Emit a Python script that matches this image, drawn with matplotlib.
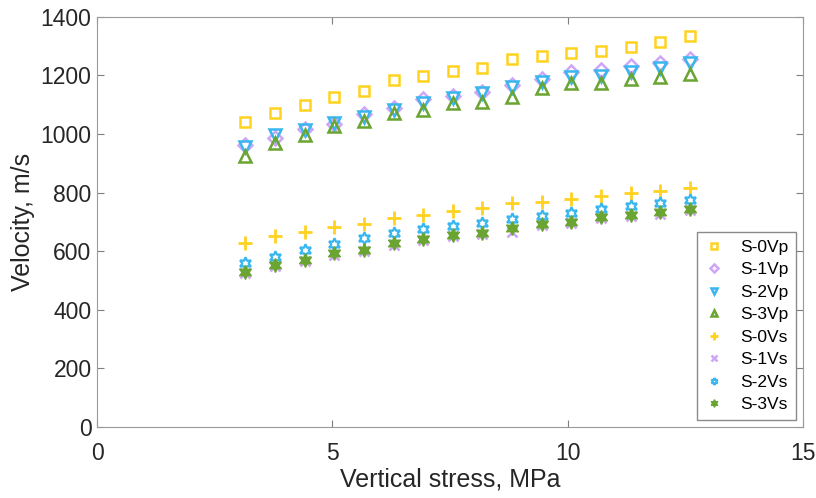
import matplotlib
matplotlib.use('Agg')
import matplotlib.pyplot as plt

plt.rcParams['font.family'] = ['Liberation Sans', 'DejaVu Sans']

# vertical stress, MPa
stress = [3.15, 3.78, 4.41, 5.04, 5.67, 6.30, 6.93, 7.56, 8.19, 8.82, 9.45, 10.08, 10.71, 11.34, 11.97, 12.60]

# P-wave velocities, m/s
vp0 = [1040, 1071, 1100, 1126, 1147, 1183, 1199, 1216, 1227, 1255, 1265, 1278, 1285, 1299, 1314, 1336]
vp1 = [963, 985, 1018, 1035, 1068, 1090, 1120, 1130, 1145, 1168, 1188, 1212, 1218, 1232, 1242, 1255]
vp2 = [957, 997, 1014, 1037, 1057, 1082, 1105, 1122, 1141, 1160, 1179, 1194, 1199, 1213, 1224, 1244]
vp3 = [925, 971, 997, 1028, 1043, 1071, 1082, 1105, 1111, 1128, 1156, 1173, 1173, 1187, 1194, 1205]

# S-wave velocities, m/s
vs0 = [629, 650, 667, 682, 693, 713, 724, 738, 747, 764, 769, 778, 789, 798, 806, 817]
vs1 = [527, 548, 567, 588, 600, 622, 637, 650, 660, 665, 688, 697, 712, 720, 728, 740]
vs2 = [559, 581, 604, 624, 644, 661, 675, 686, 697, 709, 721, 730, 743, 755, 764, 773]
vs3 = [530, 553, 570, 593, 604, 627, 641, 656, 663, 678, 693, 701, 716, 724, 733, 743]

labels = ['S-0Vp', 'S-1Vp', 'S-2Vp', 'S-3Vp', 'S-0Vs', 'S-1Vs', 'S-2Vs', 'S-3Vs']

yel = '#FFD21F'
pur = '#CFA6F7'
blu = '#38B6EF'
grn = '#6AA431'

fig = plt.figure(figsize=(8.16, 4.98), dpi=100)
ax = fig.add_axes([0.119, 0.143, 0.865, 0.823])

ms = 7
star = (6, 1, 0)
ax.plot(stress, vp0, 's', ms=ms, mfc='none', mec=yel, mew=1.8, label=labels[0])
ax.plot(stress, vp1, 'D', ms=ms, mfc='none', mec=pur, mew=1.8, label=labels[1])
ax.plot(stress, vp2, 'v', ms=ms + 1, mfc='none', mec=blu, mew=1.8, label=labels[2])
ax.plot(stress, vp3, '^', ms=ms + 1, mfc='none', mec=grn, mew=1.8, label=labels[3])
ax.plot(stress, vs0, '+', ms=ms + 3, mec=yel, mew=2.0, label=labels[4])
ax.plot(stress, vs1, 'x', ms=ms, mec=pur, mew=1.8, label=labels[5])
ax.plot(stress, vs2, marker=star, ls='none', ms=ms + 2, mfc='white', mec=blu, mew=1.6, label=labels[6])
ax.plot(stress, vs3, marker=star, ls='none', ms=ms + 3, mfc=grn, mec=grn, mew=1.0, label=labels[7])

ax.set_xlim(0, 15)
ax.set_ylim(0, 1400)
ax.set_xticks([0, 5, 10, 15])
ax.set_yticks(range(0, 1401, 200))
ax.tick_params(direction='in', top=True, right=True, labelsize=16.5,
               colors='#7f7f7f', labelcolor='#262626', length=5)
ax.tick_params(axis='x', pad=11)
ax.tick_params(axis='y', pad=4)
for s in ax.spines.values():
    s.set_color('#9a9a9a')
ax.set_xlabel('Vertical stress, MPa', fontsize=18, color='#262626', labelpad=2)
ax.set_ylabel('Velocity, m/s', fontsize=18, color='#262626', labelpad=4)

leg = ax.legend(loc='lower right', fontsize=12.5, markerscale=0.55, handlelength=1.0,
                handletextpad=1.0, labelspacing=0.42, borderaxespad=0.4,
                borderpad=0.45, fancybox=False, framealpha=1, edgecolor='#8a8a8a')

fig.savefig('out.png', dpi=100)
